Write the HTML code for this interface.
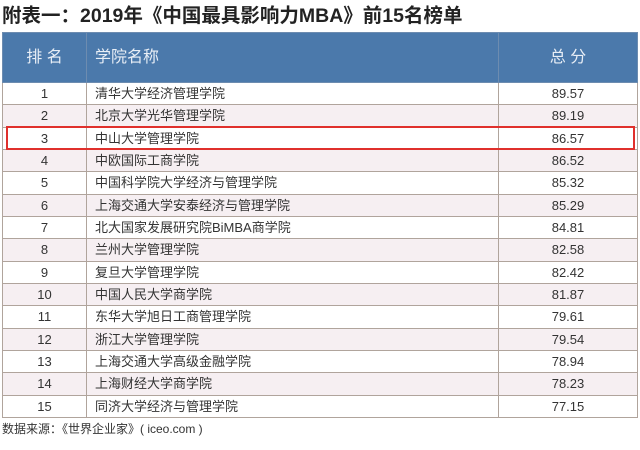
<!DOCTYPE html>
<html><head><meta charset="utf-8"><style>
body{margin:0;width:640px;height:450px;background:#fff;position:relative;overflow:hidden;font-family:"Liberation Sans","Noto Sans CJK SC",sans-serif;}
.title{position:absolute;left:2px;top:3px;font-size:19.5px;font-weight:bold;color:#222;letter-spacing:0;line-height:26px;}
table{position:absolute;left:2px;top:32px;width:636px;border-collapse:collapse;table-layout:fixed;}
td{border:1px solid #b0a49c;height:21.33px;padding:0;font-size:13px;color:#333;line-height:21px;}
tr.h td{background:#4b79ab;color:#e8eef6;height:49px;font-size:16px;border-color:#6d8cb0;}
td.r{width:83px;text-align:center;}
td.n{width:403px;padding-left:8px;}
td.s{text-align:center;}
tr.e td{background:#f6eff2;}
.box{position:absolute;left:6px;top:126px;width:625px;height:20px;border:2px solid #e0302c;}
.foot{position:absolute;left:2px;top:420px;font-size:12px;color:#333;line-height:18px;}
</style></head><body>
<div class="title">附表一：2019年《中国最具影响力MBA》前15名榜单</div>
<table>
<colgroup><col style="width:84px"><col style="width:412px"><col></colgroup>
<tr class="h"><td class="r">排 名</td><td class="n">学院名称</td><td class="s">总 分</td></tr>
<tr><td class="r">1</td><td class="n">清华大学经济管理学院</td><td class="s">89.57</td></tr>
<tr class="e"><td class="r">2</td><td class="n">北京大学光华管理学院</td><td class="s">89.19</td></tr>
<tr><td class="r">3</td><td class="n">中山大学管理学院</td><td class="s">86.57</td></tr>
<tr class="e"><td class="r">4</td><td class="n">中欧国际工商学院</td><td class="s">86.52</td></tr>
<tr><td class="r">5</td><td class="n">中国科学院大学经济与管理学院</td><td class="s">85.32</td></tr>
<tr class="e"><td class="r">6</td><td class="n">上海交通大学安泰经济与管理学院</td><td class="s">85.29</td></tr>
<tr><td class="r">7</td><td class="n">北大国家发展研究院BiMBA商学院</td><td class="s">84.81</td></tr>
<tr class="e"><td class="r">8</td><td class="n">兰州大学管理学院</td><td class="s">82.58</td></tr>
<tr><td class="r">9</td><td class="n">复旦大学管理学院</td><td class="s">82.42</td></tr>
<tr class="e"><td class="r">10</td><td class="n">中国人民大学商学院</td><td class="s">81.87</td></tr>
<tr><td class="r">11</td><td class="n">东华大学旭日工商管理学院</td><td class="s">79.61</td></tr>
<tr class="e"><td class="r">12</td><td class="n">浙江大学管理学院</td><td class="s">79.54</td></tr>
<tr><td class="r">13</td><td class="n">上海交通大学高级金融学院</td><td class="s">78.94</td></tr>
<tr class="e"><td class="r">14</td><td class="n">上海财经大学商学院</td><td class="s">78.23</td></tr>
<tr><td class="r">15</td><td class="n">同济大学经济与管理学院</td><td class="s">77.15</td></tr>
</table>
<div class="box"></div>
<div class="foot">数据来源：《世界企业家》( iceo.com )</div>
</body></html>
